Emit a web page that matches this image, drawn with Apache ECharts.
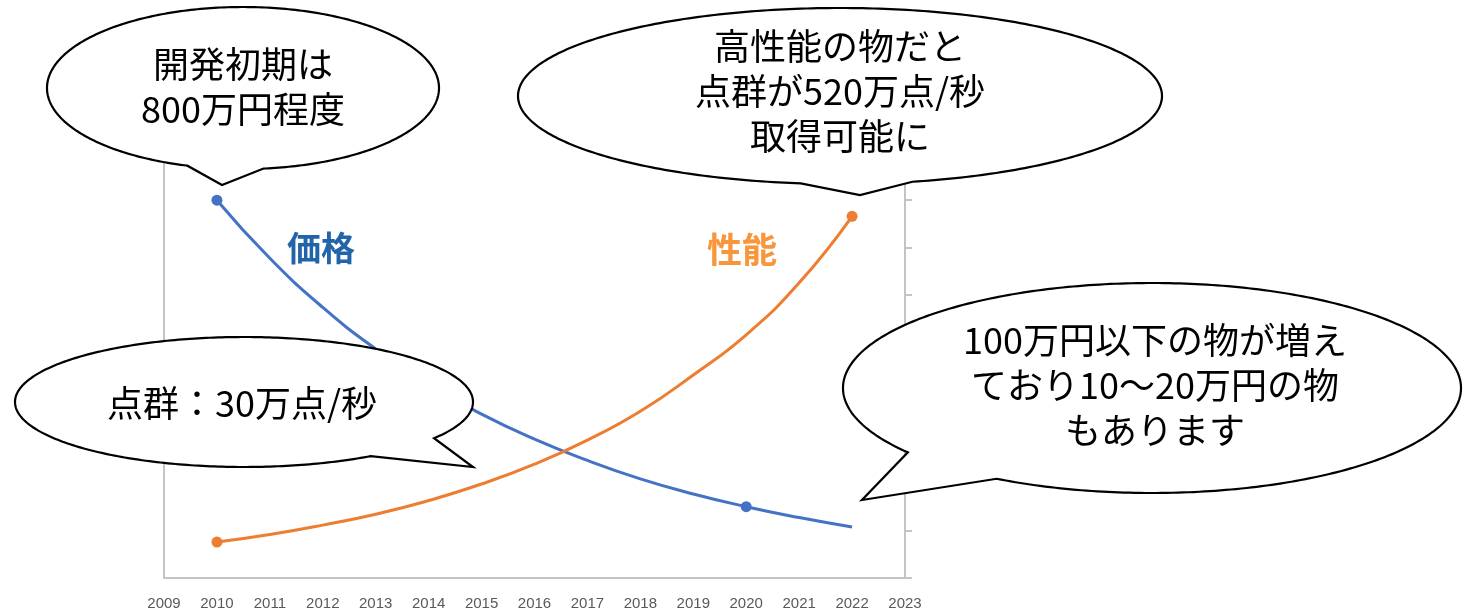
<!DOCTYPE html>
<html>
<head>
<meta charset="utf-8">
<script src="https://cdn.jsdelivr.net/npm/echarts@6/dist/echarts.min.js"></script>
<style>
html,body{margin:0;padding:0;background:#fff;}
#chart{width:1464px;height:613px;}
</style>
</head>
<body>
<div id="chart"></div>
<script>
// ---- data ----
var years = ['2009','2010','2011','2012','2013','2014','2015','2016','2017','2018','2019','2020','2021','2022','2023'];
var priceValues = ['-', 800, 677, 573, 485, 410, 347, 294, 249, 210, 178, 151, 128, 108, '-'];
var perfValues  = ['-', 76, 92, 112, 135, 164, 199, 241, 292, 353, 430, 515, 625, 766, '-'];
var priceMarkerYears = ['2010', '2020'];
var perfMarkerYears  = ['2010', '2022'];
var seriesNames = ['価格', '性能'];
var bubbleTexts = [
  '開発初期は\n800万円程度',
  '高性能の物だと\n点群が520万点/秒\n取得可能に',
  '点群：30万点/秒',
  '100万円以下の物が増え\nており10～20万円の物\nもあります'
];

function items(vals, marks) {
  return vals.map(function (v, i) {
    return { value: v, symbol: marks.indexOf(years[i]) >= 0 ? 'circle' : 'none' };
  });
}

// speech bubble outline: ellipse with a gap [g1,g2] (deg) and a tail tip
function bubblePoints(cx, cy, rx, ry, g1, g2, tip) {
  var pts = [];
  var end = g1 + 360;
  for (var a = g2; a <= end; a += 1) {
    var r = a * Math.PI / 180;
    pts.push([cx + rx * Math.cos(r), cy + ry * Math.sin(r)]);
  }
  var re = end * Math.PI / 180;
  pts.push([cx + rx * Math.cos(re), cy + ry * Math.sin(re)]);
  pts.push(tip);
  return pts;
}

var FONT = '"Noto Sans CJK JP", "Noto Sans", sans-serif';
function bubble(cx, cy, rx, ry, g1, g2, tip, text, tx, ty) {
  return [
    {
      type: 'polygon', z: 100,
      shape: { points: bubblePoints(cx, cy, rx, ry, g1, g2, tip) },
      style: { fill: '#fff', stroke: '#000', lineWidth: 2.2, lineJoin: 'miter' }
    },
    {
      type: 'text', z: 101, x: tx, y: ty,
      style: {
        text: text, fill: '#000', font: '36px ' + FONT,
        textAlign: 'center', textVerticalAlign: 'middle', lineHeight: 45
      }
    }
  ];
}

var graphics = []
  .concat(bubble(243, 88, 196, 81, 84, 106.5, [222, 185], bubbleTexts[0], 243, 87))
  .concat(bubble(840, 96, 322, 88, 77, 97, [860, 195], bubbleTexts[1], 840, 91))
  .concat(bubble(244, 402, 229, 65, 33.9, 56.4, [473, 467], bubbleTexts[2], 242, 403))
  .concat(bubble(1152, 388, 309, 105, 120.2, 142.2, [862, 500], bubbleTexts[3], 1155, 385))
  .concat([
    { type: 'text', z: 90, x: 321, y: 248,
      style: { text: seriesNames[0], fill: '#2264AA', font: 'bold 34px ' + FONT, textAlign: 'center', textVerticalAlign: 'middle' } },
    { type: 'text', z: 90, x: 742, y: 250,
      style: { text: seriesNames[1], fill: '#F7963A', font: 'bold 35px ' + FONT, textAlign: 'center', textVerticalAlign: 'middle' } }
  ]);

var chart = echarts.init(document.getElementById('chart'), null, { renderer: 'canvas' });
chart.setOption({
  animation: false,
  backgroundColor: '#fff',
  grid: { left: 164, right: 559, top: 153, bottom: 35, containLabel: false },
  xAxis: {
    type: 'category', data: years, boundaryGap: false,
    axisLine: { show: true, lineStyle: { color: '#C4C4C4', width: 2 } },
    axisTick: { show: false },
    axisLabel: { color: '#595959', fontSize: 15, fontFamily: 'Liberation Sans, Arial, sans-serif', margin: 18, interval: 0 },
    splitLine: { show: false }
  },
  yAxis: [
    {
      type: 'value', min: 0, max: 900, interval: 100, position: 'left',
      axisLine: { show: true, lineStyle: { color: '#C4C4C4', width: 2 } },
      axisTick: { show: false }, axisLabel: { show: false }, splitLine: { show: false }
    },
    {
      type: 'value', min: 0, max: 900, interval: 100, position: 'right',
      axisLine: { show: true, lineStyle: { color: '#C4C4C4', width: 2 } },
      axisTick: { show: true, inside: false, length: 7, lineStyle: { color: '#C4C4C4', width: 2 } },
      axisLabel: { show: false }, splitLine: { show: false }
    }
  ],
  series: [
    {
      name: seriesNames[0], type: 'line', yAxisIndex: 0, smooth: 0.5,
      data: items(priceValues, priceMarkerYears), symbolSize: 11, showSymbol: true,
      lineStyle: { color: '#4472C4', width: 3 }, itemStyle: { color: '#4472C4' }
    },
    {
      name: seriesNames[1], type: 'line', yAxisIndex: 0, smooth: 0.5,
      data: items(perfValues, perfMarkerYears), symbolSize: 11, showSymbol: true,
      lineStyle: { color: '#ED7D31', width: 3 }, itemStyle: { color: '#ED7D31' }
    }
  ],
  graphic: { elements: graphics }
});
</script>
</body>
</html>
